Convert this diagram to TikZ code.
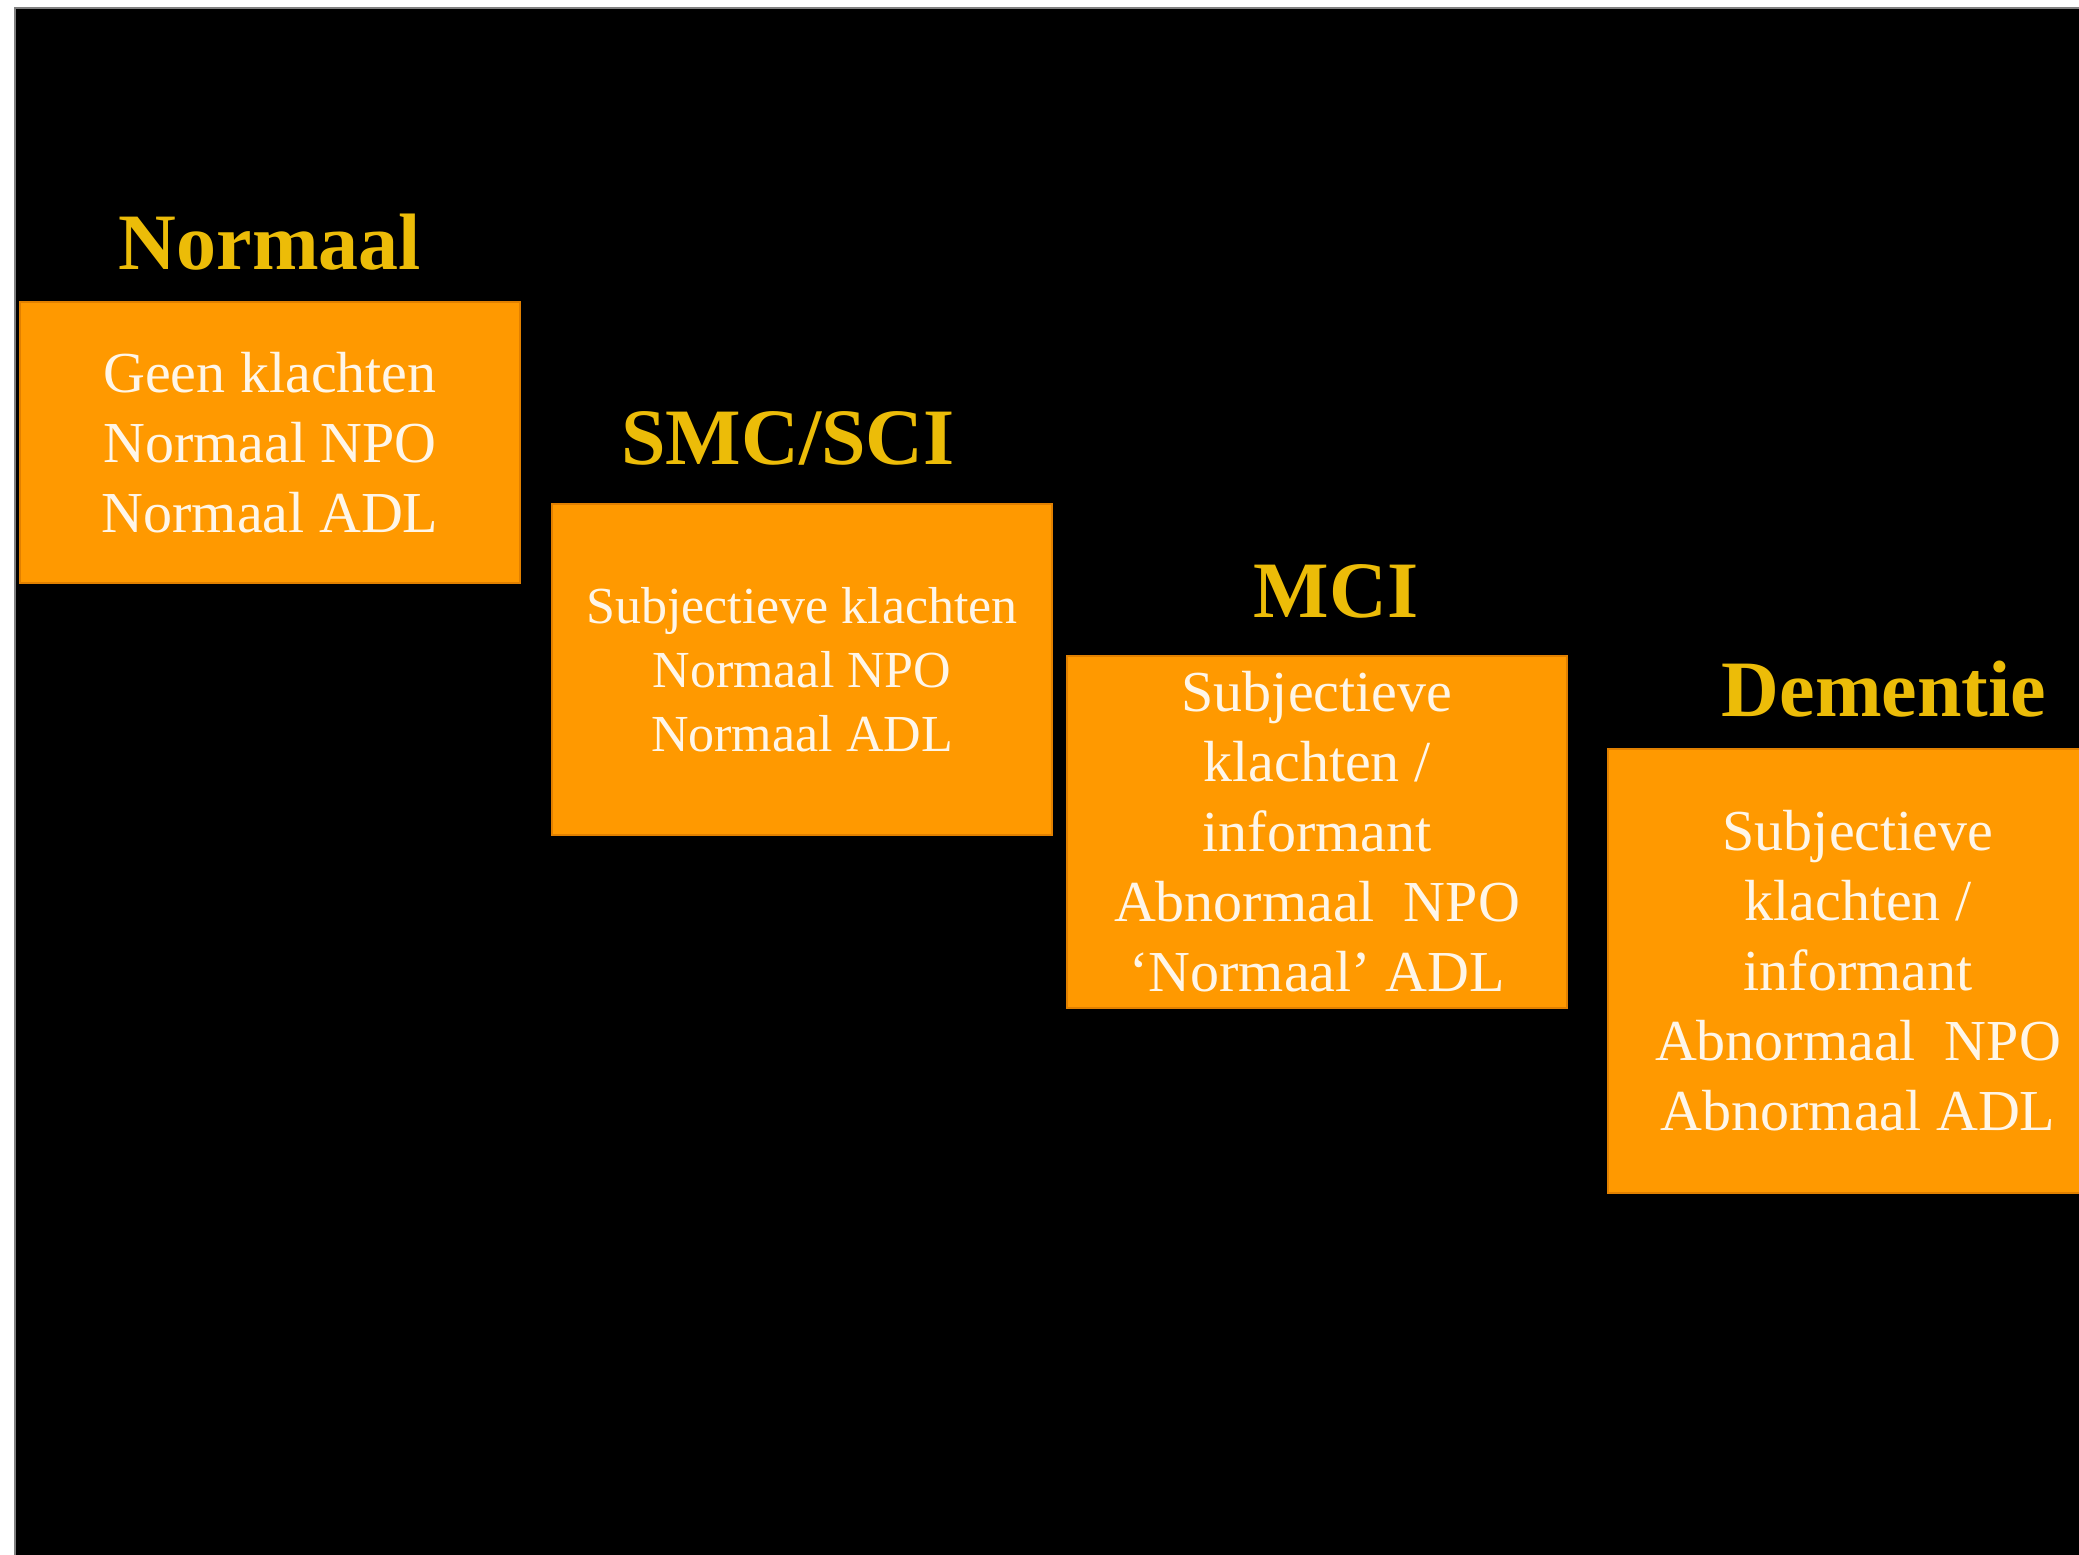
\documentclass[tikz,border=0pt]{standalone}
\usepackage{fontspec}
\setmainfont{Liberation Serif}
\definecolor{boxorange}{RGB}{255,153,0}
\definecolor{boxedge}{RGB}{225,128,0}
\definecolor{titlegold}{RGB}{236,188,8}
\definecolor{boxtext}{RGB}{255,246,232}
\begin{document}
\begin{tikzpicture}[x=0.5pt,y=-0.5pt,
  stagebox/.style={rectangle, fill=boxorange, draw=boxedge, line width=1.2pt, text=boxtext, align=center, inner sep=0pt, minimum width=250pt, font=\fontsize{29}{35}\selectfont},
  stagetitle/.style={text=titlegold, font=\fontsize{40}{48}\selectfont\bfseries, anchor=base, inner sep=0pt}]
\useasboundingbox (0,0) rectangle (2079,1554);
\clip (0,0) rectangle (2079,1554);
\fill[white] (0,0) rectangle (2079,1554);
\fill[black] (15,8) rectangle (2080,1560);
\draw[gray, line width=0.8pt] (15,1560) -- (15,8) -- (2080,8);
% stage 1
\node[stagetitle] (t1) at (270,269) {Normaal};
\node[stagebox, minimum height=140.5pt] (b1) at (270,442.5) {Geen klachten\\Normaal NPO\\Normaal ADL};
% stage 2
\node[stagetitle] (t2) at (788,464) {SMC/SCI};
\node[stagebox, minimum height=165.5pt, font=\fontsize{26}{32}\selectfont] (b2) at (802,669.5) {Subjectieve klachten\\Normaal NPO\\Normaal ADL};
% stage 3
\node[stagetitle] (t3) at (1336,617) {MCI};
\node[stagebox, minimum height=176pt] (b3) at (1317,832) {Subjectieve\\klachten /\\informant\\Abnormaal~~NPO\\‘Normaal’ ADL};
% stage 4
\node[stagetitle] (t4) at (1884,716) {Dementie};
\node[stagebox, minimum height=222pt] (b4) at (1858,971) {Subjectieve\\klachten /\\informant\\Abnormaal~~NPO\\Abnormaal ADL};
\end{tikzpicture}
\end{document}
